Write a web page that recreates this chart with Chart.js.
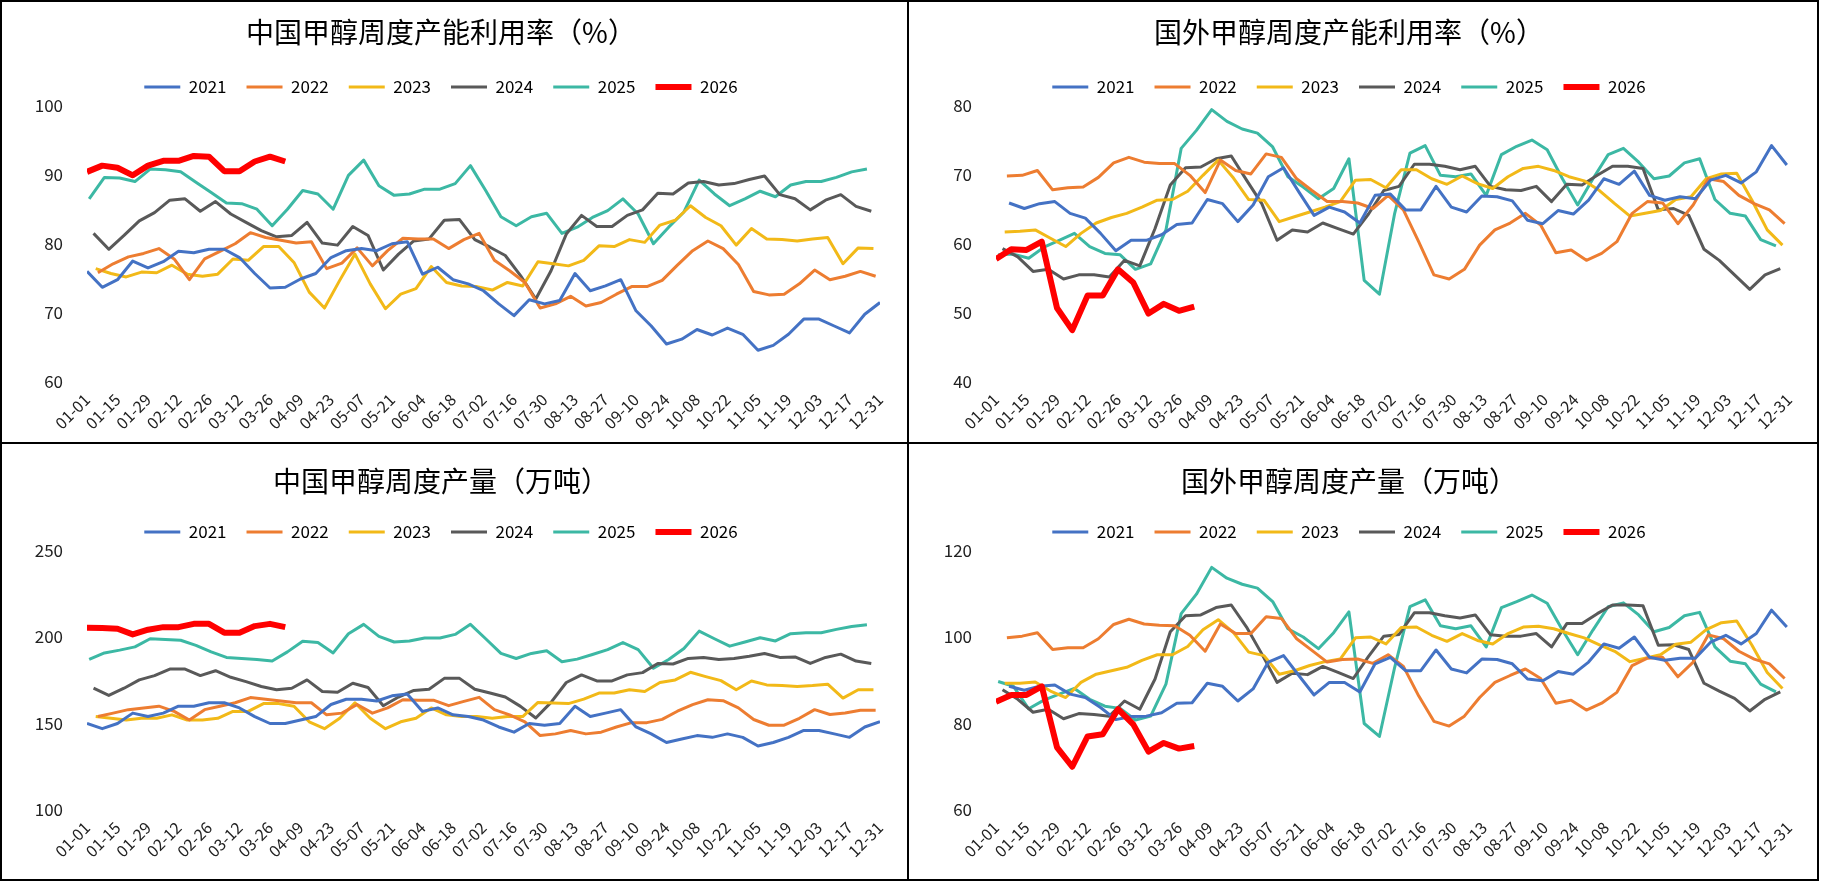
<!DOCTYPE html>
<html>
<head>
<meta charset="utf-8">
<script src="https://cdn.jsdelivr.net/npm/chart.js@4.4.1/dist/chart.umd.min.js"></script>
<style>
html,body{margin:0;padding:0;background:#fff;}
#wrap{position:relative;width:1821px;height:882px;overflow:hidden;background:#fff;}
.box{position:absolute;border:2px solid #000;box-sizing:border-box;background:#fff;}
.box canvas{display:block;}
</style>
</head>
<body>
<div id="wrap">
  <div class="box" style="left:0;top:0;width:909px;height:444px"><canvas id="c1" width="905" height="440"></canvas></div>
  <div class="box" style="left:907px;top:0;width:912px;height:444px"><canvas id="c2" width="908" height="440"></canvas></div>
  <div class="box" style="left:0;top:442px;width:909px;height:439px"><canvas id="c3" width="905" height="435"></canvas></div>
  <div class="box" style="left:907px;top:442px;width:912px;height:439px"><canvas id="c4" width="908" height="435"></canvas></div>
</div>
<script>
// years / colours
var years = ['2021', '2022', '2023', '2024', '2025', '2026'];
var colors = ['#4472C4', '#ED7D31', '#F2B918', '#595959', '#3CB8A4', '#FF0000'];
var tickLabels = ['01-01','01-15','01-29','02-12','02-26','03-12','03-26','04-09','04-23','05-07','05-21','06-04','06-18',
  '07-02','07-16','07-30','08-13','08-27','09-10','09-24','10-08','10-22','11-05','11-19','12-03','12-17','12-31'];
// first day of each year's weekly series (days after 01-01)
var startCN = [0, 5, 4, 3, 1, 0];
var startWD = [6, 5, 4, 3, 1, 0];

// 中国甲醇周度产能利用率（%）
var cnRate21 = [76.0,73.7,74.8,77.5,76.5,77.4,78.9,78.7,79.2,79.2,78.0,75.7,73.6,73.7,74.9,75.7,78.0,79.0,79.3,79.0,80.0,80.3,75.6,76.6,74.8,74.2,73.2,71.3,69.6,71.9,71.3,71.8,75.7,73.2,73.9,74.8,70.3,68.1,65.5,66.2,67.6,66.8,67.8,66.9,64.6,65.3,66.9,69.1,69.1,68.1,67.1,69.8,71.5];
var cnRate22 = [75.8,77.1,78.1,78.6,79.3,77.8,74.8,77.8,78.9,80.0,81.6,80.9,80.5,80.1,80.3,76.4,77.2,79.4,76.8,79.0,80.8,80.7,80.7,79.3,80.6,81.5,77.6,76.1,74.4,70.7,71.3,72.4,71.0,71.5,72.7,73.8,73.8,74.7,76.9,79.0,80.4,79.3,77.0,73.1,72.6,72.7,74.2,76.2,74.8,75.3,76.0,75.3];
var cnRate23 = [76.4,75.7,75.2,75.9,75.8,76.9,75.6,75.3,75.6,77.8,77.6,79.6,79.6,77.3,73.0,70.7,74.7,78.5,74.2,70.6,72.7,73.5,76.7,74.4,73.9,73.8,73.3,74.4,73.9,77.4,77.1,76.8,77.6,79.7,79.6,80.6,80.2,82.7,83.4,85.5,83.8,82.6,79.8,82.2,80.7,80.6,80.4,80.7,80.9,77.1,79.4,79.3];
var cnRate24 = [81.5,79.2,81.2,83.3,84.5,86.3,86.5,84.7,86.1,84.3,83.1,81.9,81.0,81.2,83.1,80.1,79.8,82.5,81.2,76.2,78.5,80.4,80.7,83.4,83.5,80.6,79.5,78.3,75.4,72.0,76.1,81.4,84.1,82.5,82.5,84.1,84.9,87.3,87.2,88.8,89.0,88.5,88.7,89.3,89.8,87.1,86.5,84.9,86.3,87.1,85.4,84.7];
var cnRate25 = [86.5,89.6,89.5,89.0,90.8,90.7,90.4,88.9,87.4,85.9,85.8,85.0,82.6,85.0,87.7,87.2,85.0,89.9,92.1,88.4,87.0,87.2,87.9,87.9,88.7,91.3,87.7,83.9,82.6,83.9,84.4,81.5,82.4,83.8,84.8,86.5,84.3,80.0,82.4,84.6,89.2,87.2,85.5,86.5,87.6,86.8,88.5,89.0,89.0,89.6,90.4,90.8];
var cnRate26 = [90.4,91.3,91.0,89.9,91.3,92.0,92.0,92.7,92.6,90.5,90.5,91.9,92.6,91.9];

// 国外甲醇周度产能利用率（%）
var wdRate21 = [65.9,65.1,65.8,66.1,64.4,63.7,61.5,59.0,60.5,60.5,61.3,62.8,63.0,66.4,65.8,63.2,65.6,69.7,71.0,67.5,64.1,65.3,64.6,63.0,67.0,67.2,64.9,64.9,68.3,65.3,64.6,66.9,66.8,66.2,63.4,62.9,64.8,64.3,66.3,69.4,68.6,70.5,67.0,66.3,66.8,66.5,69.2,69.9,68.8,70.4,74.2,71.4];
var wdRate22 = [69.8,69.9,70.6,67.8,68.1,68.2,69.6,71.7,72.5,71.8,71.6,71.6,69.9,67.4,72.1,70.6,70.1,73.0,72.5,69.4,67.7,66.1,66.1,65.9,65.1,67.0,64.9,60.3,55.5,54.9,56.3,59.8,62.0,63.0,64.4,62.7,58.7,59.1,57.6,58.6,60.3,64.4,66.1,65.9,62.9,65.6,69.4,69.0,67.0,65.8,64.9,62.9];
var wdRate23 = [61.7,61.8,62.0,60.8,59.6,61.5,63.0,63.8,64.4,65.3,66.3,66.4,67.6,69.9,72.1,69.5,66.4,66.3,63.2,63.9,64.6,65.3,66.1,69.2,69.3,68.1,70.7,70.7,69.4,68.6,69.8,68.7,68.0,69.7,70.9,71.2,70.6,69.7,69.1,67.7,65.8,64.0,64.4,64.8,66.4,66.8,69.4,70.1,70.2,66.3,62.0,59.8];
var wdRate24 = [59.3,58.1,56.0,56.3,54.9,55.5,55.5,55.2,57.6,56.8,62.2,68.5,71.0,71.1,72.3,72.7,69.2,65.8,60.5,62.0,61.7,63.0,62.2,61.4,64.3,67.7,68.3,71.5,71.5,71.2,70.7,71.2,68.3,67.8,67.7,68.3,66.1,68.6,68.5,69.9,71.2,71.2,70.9,64.9,65.1,64.1,59.2,57.6,55.5,53.4,55.5,56.4];
var wdRate25 = [58.4,58.5,57.9,59.5,60.5,61.5,59.6,58.6,58.4,56.3,57.1,62.0,73.8,76.4,79.4,77.7,76.6,76.0,74.0,69.7,68.2,66.5,68.0,72.3,54.7,52.7,64.4,73.1,74.2,69.9,69.7,70.1,67.0,72.9,74.1,75.0,73.6,69.4,65.6,69.4,72.9,73.8,71.8,69.4,69.8,71.7,72.3,66.4,64.4,64.0,60.6,59.7];
var wdRate26 = [57.8,59.2,59.1,60.3,50.7,47.5,52.5,52.5,56.3,54.4,49.9,51.3,50.3,50.9];

// 中国甲醇周度产量（万吨）
var cnOut21 = [150,147,150,156,154,156,160,160,162,162,159,154,150,150,152,154,161,164,164,163,166,167,157,159,155,154,152,148,145,150,149,150,160,154,156,158,148,144,139,141,143,142,144,142,137,139,142,146,146,144,142,148,151];
var cnOut22 = [154,156,158,159,160,157,152,158,160,162,165,164,163,162,162,155,156,161,156,159,163.7,163.5,163.5,160.3,162.8,165.1,158,155,151,143,144,146,144,145,148,150.5,150.5,152.4,157.1,160.9,163.7,163.2,159.0,152.3,149.0,149.0,153.0,158.0,155.2,156.1,157.6,157.6];
var cnOut23 = [154,153,152,153,153,155,152,152,153,157,157,161.5,161.5,160,151,147,153,162,153,147,151,153,159,155,154,154,153,154,154,162.2,161.8,161.5,164.1,167.6,167.6,169.5,168.5,173.7,175.2,179.6,177.1,174.8,169.5,174.6,172.3,171.9,171.4,171.9,172.7,164.7,169.5,169.5];
var cnOut24 = [170.4,166.2,170.4,175.2,177.7,181.5,181.5,177.7,180.5,176.7,174.2,171.4,169.5,170.4,175.2,168.5,168.1,173.3,170.8,160.3,165.3,169.1,169.8,176.1,176.1,169.8,167.6,165.3,159.9,153.2,162.2,173.7,178.1,174.6,174.6,178.1,179.4,184.7,184.4,187.6,188.2,187.0,187.6,188.9,190.5,188.2,188.5,184.7,188.2,190.1,186.1,184.7];
var cnOut25 = [187.0,190.8,192.4,194.3,199.0,198.5,198.1,195.2,191.4,188.2,187.6,187.0,186.1,191.4,197.5,196.8,190.8,201.9,207.3,200.4,197.1,197.7,199.4,199.4,201.5,207.3,199.0,190.5,187.6,190.5,192.0,185.7,187.2,189.9,192.7,196.8,192.7,181.9,187.0,193.3,203.4,199.0,194.7,197.1,199.6,197.7,201.9,202.5,202.5,204.4,206.1,207.1];
var cnOut26 = [205.3,205.2,204.8,201.5,204.2,205.7,205.7,207.6,207.6,202.5,202.5,206.3,207.6,205.7];

// 国外甲醇周度产量（万吨）
var wdOut21 = [88.6,87.7,88.6,88.9,86.8,86.0,83.7,80.9,81.6,81.7,82.5,84.7,84.8,89.3,88.6,85.2,88.0,94.2,95.7,91.1,86.6,89.5,89.5,87.3,93.8,95.3,92.2,92.2,97.0,92.6,91.7,94.9,94.8,93.8,90.3,89.9,92.0,91.4,94.2,98.4,97.4,100.0,95.3,94.6,95.1,95.1,98.8,100.4,98.4,100.8,106.2,102.3];
var wdOut22 = [99.8,100.2,101.0,97.1,97.5,97.5,99.6,102.9,104.1,103.0,102.7,102.6,100.4,96.7,103.0,100.8,100.8,104.7,104.3,99.6,96.9,94.2,94.8,94.9,93.9,95.9,93.2,86.4,80.5,79.4,81.7,86.0,89.5,91.1,92.6,90.4,84.7,85.4,83.1,84.7,87.2,93.4,95.1,95.3,90.8,94.2,100.5,99.6,96.7,94.9,93.8,90.4];
var wdOut23 = [89.3,89.3,89.6,87.5,86.0,89.5,91.4,92.2,93.0,94.6,95.9,95.9,97.8,101.7,104.0,101.0,96.5,95.7,91.4,92.2,93.4,94.3,94.9,99.8,100.0,98.4,102.2,102.3,100.4,99.0,100.8,99.2,98.4,100.8,102.3,102.5,101.9,100.8,99.8,98.2,96.7,94.3,95.1,95.9,98.3,98.8,101.7,103.3,103.7,98.1,91.8,88.1];
var wdOut24 = [87.8,85.6,82.6,83.3,81.1,82.3,82.1,81.7,85.2,83.3,90.3,101.2,104.9,105.1,106.8,107.4,102.3,96.1,89.5,91.6,91.3,93.2,91.8,90.4,95.5,100.2,100.6,105.6,105.6,104.9,104.4,105.1,100.5,100.2,100.2,100.8,97.7,103.1,103.1,105.4,107.4,107.4,107.2,98.1,98.2,97.1,89.3,87.5,85.8,82.9,85.6,87.3];
var wdOut25 = [89.7,88.6,83.4,85.4,86.8,88.1,85.6,84.0,83.5,80.8,81.7,89.1,105.4,109.9,116.1,113.6,112.2,111.3,108.2,101.9,100.0,97.3,101.0,105.8,80.0,77.0,93.0,107.0,108.6,102.6,101.9,102.6,97.7,106.8,108.2,109.7,107.8,101.6,95.9,101.6,107.0,107.9,105.1,101.2,102.2,104.9,105.7,97.7,94.4,93.8,89.1,87.3];
var wdOut26 = [85.0,86.6,86.6,88.6,74.5,70.0,77.0,77.5,83.3,79.8,73.5,75.5,74.2,74.8];

var cjk = "'Noto Sans CJK SC', sans-serif";

function makeChart(id, title, series, starts, yMin, yMax, yStep, geo) {
  var datasets = series.map(function (vals, k) {
    return {
      label: years[k],
      data: vals.map(function (v, i) { return {x: starts[k] + 7 * i, y: v}; }),
      borderColor: colors[k],
      backgroundColor: colors[k],
      borderWidth: k === 5 ? 6 : 3,
      pointRadius: 0,
      pointHoverRadius: 0,
      tension: 0,
      borderJoinStyle: 'round',
      order: k === 5 ? -1 : 0   // red drawn on top
    };
  });
  new Chart(document.getElementById(id), {
    type: 'line',
    data: {datasets: datasets},
    options: {
      responsive: false,
      animation: false,
      layout: {padding: {left: 0, right: geo.right, top: 0, bottom: 0}},
      plugins: {
        title: {
          display: true, text: title, color: '#000',
          font: {family: cjk, size: 28, weight: 'normal'},
          padding: {top: geo.tTop, bottom: geo.tBot}
        },
        legend: {
          position: 'top',
          labels: {
            usePointStyle: true, pointStyle: 'line', pointStyleWidth: 36,
            padding: 20, color: '#000',
            font: {family: cjk, size: 17},
            sort: function (a, b) { return a.datasetIndex - b.datasetIndex; }
          }
        },
        tooltip: {enabled: false}
      },
      scales: {
        x: {
          type: 'linear', min: 0, max: 364,
          grid: {display: false, drawTicks: false},
          border: {display: false},
          ticks: {
            stepSize: 14, autoSkip: false, maxRotation: 45, minRotation: 45,
            padding: 8, color: '#222', font: {family: cjk, size: 16},
            callback: function (v) { return tickLabels[Math.round(v / 14)]; }
          },
          afterFit: function (s) { s.height = geo.xh; }
        },
        y: {
          min: yMin, max: yMax,
          grid: {display: false, drawTicks: false},
          border: {display: false},
          ticks: {stepSize: yStep, padding: 24, color: '#222', font: {family: cjk, size: 17}},
          afterFit: function (s) { s.width = geo.left; }
        }
      }
    }
  });
}

makeChart('c1', '中国甲醇周度产能利用率（%）',
  [cnRate21, cnRate22, cnRate23, cnRate24, cnRate25, cnRate26], startCN, 60, 100, 10,
  {left: 85, right: 27, xh: 60, tTop: 13.2, tBot: 9.7});
makeChart('c2', '国外甲醇周度产能利用率（%）',
  [wdRate21, wdRate22, wdRate23, wdRate24, wdRate25, wdRate26], startWD, 40, 80, 10,
  {left: 87, right: 28, xh: 60, tTop: 13.2, tBot: 9.7});
makeChart('c3', '中国甲醇周度产量（万吨）',
  [cnOut21, cnOut22, cnOut23, cnOut24, cnOut25, cnOut26], startCN, 100, 250, 50,
  {left: 85, right: 27, xh: 69, tTop: 20.2, tBot: 5.7});
makeChart('c4', '国外甲醇周度产量（万吨）',
  [wdOut21, wdOut22, wdOut23, wdOut24, wdOut25, wdOut26], startWD, 60, 120, 20,
  {left: 87, right: 28, xh: 69, tTop: 20.2, tBot: 5.7});
</script>
</body>
</html>
